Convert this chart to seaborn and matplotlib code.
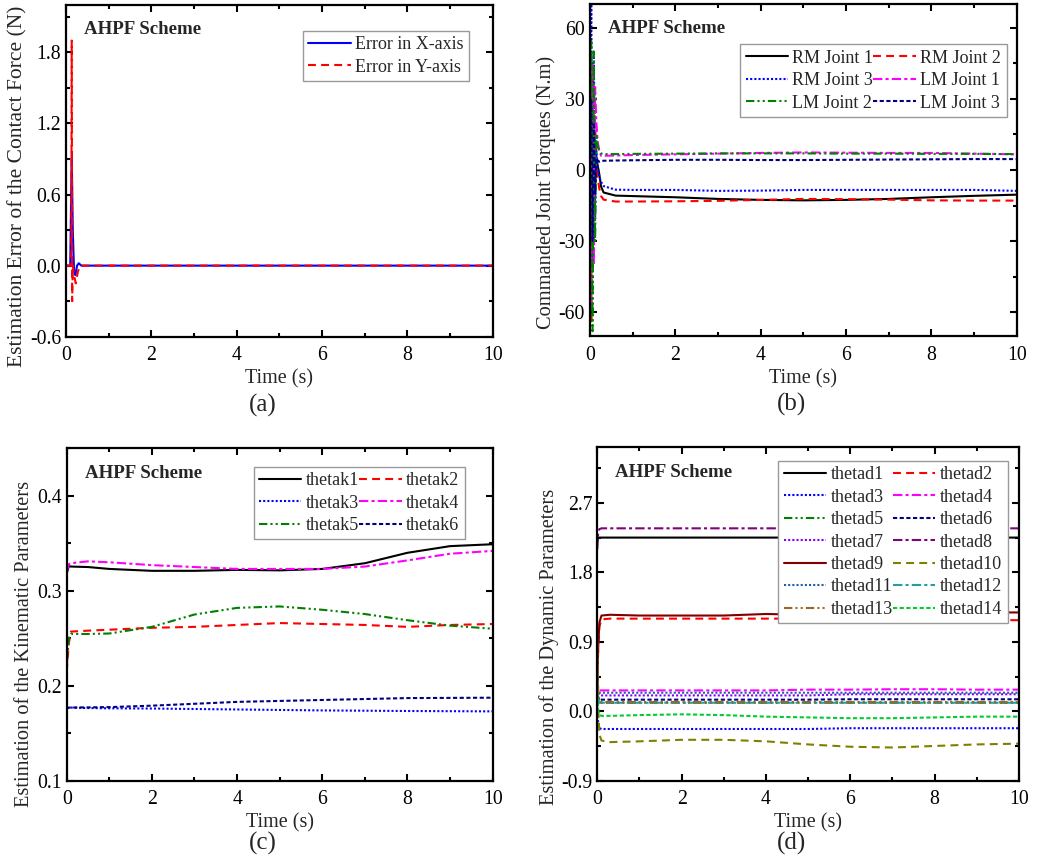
import numpy as np
import pandas as pd
import matplotlib
matplotlib.use("Agg")
import matplotlib.pyplot as plt
from matplotlib.ticker import MultipleLocator, FormatStrFormatter
import seaborn as sns

sns.set_style("ticks")
plt.rcParams['font.family'] = ['Liberation Serif', 'DejaVu Serif']
plt.rcParams['axes.unicode_minus'] = False

# ---------------- (a) contact force estimation error ----------------
t_ax = [0, 0.10, 0.135, 0.16, 0.19, 0.22, 0.26, 0.30, 0.36, 10]
err_x = [0, 0, 0.95, 0.30, -0.05, -0.08, 0.0, 0.02, 0.0, 0.0]
t_ay = [0, 0.125, 0.135, 0.145, 0.16, 0.20, 0.23, 0.28, 0.33, 10]
err_y = [0, 0, 1.90, -0.30, 0.0, -0.10, -0.15, -0.05, 0.0, 0.0]

# ---------------- (b) commanded joint torques ----------------
t_b = [0, 0.03, 0.06, 0.09, 0.12, 0.15, 0.18, 0.22, 0.26, 0.32, 0.6, 1, 2, 3, 4, 5, 6, 7, 8, 9, 10]
rm_j1 = [0, 10, -20, 15, -5, 4, 2, -2, -7, -9.5, -10.8, -11.0, -11.5, -12.2, -12.6, -12.8, -12.6, -12.2, -11.5, -10.9, -10.4]
rm_j2 = [0, -65, 40, -30, 20, 5, -3, -8, -11, -12.5, -13.3, -13.3, -13.2, -13.0, -12.6, -12.2, -12.3, -12.5, -12.8, -12.9, -12.9]
rm_j3 = [0, 70, -40, 50, -20, 8, 2, -3, -5, -6.8, -8.3, -8.4, -8.4, -8.8, -8.7, -8.4, -8.4, -8.4, -8.4, -8.4, -8.8]
lm_j1 = [0, -60, 45, -40, 35, 20, 12, 8, 6, 6.0, 6.1, 6.3, 6.6, 6.9, 7.2, 7.4, 7.3, 7.2, 7.2, 6.9, 6.6]
lm_j2 = [0, 55, -68, 50, -30, 15, 10, 8, 7, 6.7, 6.7, 6.8, 6.9, 7.0, 7.0, 7.0, 6.9, 6.9, 6.8, 6.8, 6.7]
lm_j3 = [0, 30, -30, 20, -10, 5, 4, 3.5, 3.8, 3.9, 4.0, 4.1, 4.3, 4.3, 4.2, 4.2, 4.3, 4.4, 4.5, 4.6, 4.6]

# ---------------- (c) kinematic parameters ----------------
t_c = [0, 0.05, 0.1, 0.5, 1, 2, 3, 4, 5, 6, 7, 8, 9, 10]
thetak1 = [0.318, 0.326, 0.3255, 0.325, 0.323, 0.321, 0.321, 0.322, 0.3215, 0.323, 0.329, 0.340, 0.347, 0.349]
thetak2 = [0.215, 0.245, 0.257, 0.258, 0.259, 0.261, 0.262, 0.264, 0.266, 0.265, 0.264, 0.262, 0.264, 0.265]
thetak3 = [0.176, 0.177, 0.177, 0.1765, 0.1762, 0.176, 0.1755, 0.175, 0.1745, 0.174, 0.1737, 0.1734, 0.1732, 0.173]
thetak4 = [0.320, 0.328, 0.329, 0.331, 0.330, 0.327, 0.325, 0.323, 0.323, 0.323, 0.3255, 0.332, 0.339, 0.342]
thetak5 = [0.220, 0.250, 0.2545, 0.2545, 0.255, 0.262, 0.275, 0.282, 0.2835, 0.280, 0.2755, 0.269, 0.2633, 0.260]
thetak6 = [0.176, 0.177, 0.177, 0.1772, 0.1775, 0.179, 0.181, 0.183, 0.184, 0.185, 0.186, 0.187, 0.1872, 0.1874]

# ---------------- (d) dynamic parameters ----------------
t_d = [0, 0.02, 0.05, 0.1, 0.3, 1, 2, 3, 4, 5, 6, 7, 8, 9, 10]
thetad1 = [2.20, 2.25, 2.25, 2.25, 2.25, 2.25, 2.25, 2.25, 2.25, 2.25, 2.25, 2.25, 2.25, 2.25, 2.25]
thetad2 = [0.20, 0.80, 1.10, 1.19, 1.20, 1.20, 1.20, 1.20, 1.20, 1.20, 1.19, 1.19, 1.18, 1.18, 1.18]
thetad3 = [0.10, -0.15, -0.22, -0.23, -0.23, -0.23, -0.23, -0.23, -0.23, -0.23, -0.22, -0.22, -0.22, -0.22, -0.22]
thetad4 = [0.50, 0.30, 0.27, 0.27, 0.27, 0.27, 0.27, 0.27, 0.27, 0.28, 0.28, 0.285, 0.285, 0.28, 0.28]
thetad5 = [0.60, 0.20, 0.12, 0.11, 0.11, 0.11, 0.11, 0.11, 0.11, 0.11, 0.11, 0.11, 0.11, 0.11, 0.11]
thetad6 = [0.30, 0.18, 0.15, 0.15, 0.15, 0.15, 0.15, 0.15, 0.15, 0.15, 0.155, 0.155, 0.155, 0.155, 0.155]
thetad7 = [0.40, 0.25, 0.21, 0.205, 0.205, 0.205, 0.205, 0.205, 0.205, 0.205, 0.22, 0.22, 0.22, 0.22, 0.22]
thetad8 = [2.10, 2.30, 2.36, 2.37, 2.37, 2.37, 2.37, 2.37, 2.37, 2.37, 2.37, 2.37, 2.37, 2.37, 2.37]
thetad9 = [0.30, 0.80, 1.15, 1.24, 1.25, 1.24, 1.24, 1.24, 1.26, 1.25, 1.25, 1.26, 1.27, 1.28, 1.28]
thetad10 = [0.70, 0.10, -0.30, -0.38, -0.40, -0.39, -0.37, -0.37, -0.39, -0.43, -0.46, -0.47, -0.45, -0.43, -0.42]
thetad11 = [0.35, 0.26, 0.24, 0.24, 0.24, 0.24, 0.24, 0.24, 0.24, 0.24, 0.24, 0.24, 0.24, 0.24, 0.24]
thetad12 = [0.40, 0.15, 0.11, 0.11, 0.11, 0.11, 0.11, 0.11, 0.11, 0.11, 0.11, 0.11, 0.11, 0.11, 0.11]
thetad13 = [0.90, 0.30, 0.13, 0.12, 0.12, 0.12, 0.12, 0.12, 0.12, 0.12, 0.12, 0.12, 0.12, 0.12, 0.12]
thetad14 = [0.20, 0.00, -0.05, -0.06, -0.06, -0.05, -0.04, -0.05, -0.07, -0.08, -0.09, -0.09, -0.08, -0.07, -0.07]

# line styles
SOLID = '-'
DASH = (0, (3.8, 2.5))
DOT = (0, (1, 1))
DASHDOT = (0, (4.5, 1.5, 1.5, 1.5))
DASHDOTDOT = (0, (4, 1.5, 1, 1.5, 1, 1.5))
SHORTDASH = (0, (2, 1.2))

fig = plt.figure(figsize=(10.42, 8.66), dpi=100)
ax_a = fig.add_axes([0.0633, 0.6112, 0.4095, 0.3830])
ax_b = fig.add_axes([0.5662, 0.6120, 0.4095, 0.3834])
ax_c = fig.add_axes([0.0640, 0.0985, 0.4088, 0.3838])
ax_d = fig.add_axes([0.5732, 0.0985, 0.4047, 0.3850])


def draw(ax, t, v, color, ls, label, lw=1.5):
    sns.lineplot(x=t, y=v, ax=ax, color=color, linestyle=ls, linewidth=lw,
                 label=label, estimator=None, sort=False, legend=False)
    return ax.lines[-1]


def style(ax, ylim, ymaj, ymin, fmt, ylabel, ylpos, ylsize=14.7):
    ax.set_xlim(0, 10)
    ax.set_ylim(*ylim)
    ax.xaxis.set_major_locator(MultipleLocator(2))
    ax.xaxis.set_minor_locator(MultipleLocator(1))
    ax.yaxis.set_major_locator(MultipleLocator(ymaj))
    ax.yaxis.set_minor_locator(MultipleLocator(ymin))
    ax.yaxis.set_major_formatter(FormatStrFormatter(fmt))
    ax.tick_params(which='both', direction='in', top=True, right=True,
                   labelsize=14.2, width=1.5, colors='black')
    ax.tick_params(which='major', length=5)
    ax.tick_params(which='minor', length=3)
    ax.tick_params(axis='x', pad=7)
    for s in ax.spines.values():
        s.set_linewidth(1.6)
        s.set_color('black')
        s.set_visible(True)
    ax.set_xlabel('Time (s)', fontsize=14.5, labelpad=3)
    ax.set_ylabel(ylabel, fontsize=ylsize, labelpad=2)
    ax.yaxis.label.set_y(ylpos)
    ax.text(0.043, 0.925, 'AHPF Scheme', transform=ax.transAxes, fontsize=13.6,
            fontweight='bold', va='center', ha='left')


def legend(ax, handles, anchor, ncol=1, order=None):
    if order is not None:
        handles = [handles[i] for i in order]
    lg = ax.legend(handles=handles, loc='upper right', bbox_to_anchor=anchor,
                   borderaxespad=0, ncol=ncol, fontsize=13, frameon=True,
                   fancybox=False, edgecolor='#999999', framealpha=1,
                   handlelength=2.35, handletextpad=0.25, columnspacing=0.0,
                   labelspacing=0.3, borderpad=0.3)
    lg.get_frame().set_linewidth(1.0)


# (a)
ha = [draw(ax_a, t_ax, err_x, '#0000ff', SOLID, 'Error in X-axis'),
      draw(ax_a, t_ay, err_y, '#ff0000', DASH, 'Error in Y-axis')]
style(ax_a, (-0.6, 2.2), 0.6, 0.3, '%.1f', 'Estimation Error of the Contact Force (N)', 0.453, 15.5)
legend(ax_a, ha, (0.945, 0.922))

# (b)
hb = [draw(ax_b, t_b, rm_j1, 'black', SOLID, 'RM Joint 1'),
      draw(ax_b, t_b, rm_j2, '#ff0000', DASH, 'RM Joint 2'),
      draw(ax_b, t_b, rm_j3, '#0000ff', DOT, 'RM Joint 3'),
      draw(ax_b, t_b, lm_j1, '#ff00ff', DASHDOT, 'LM Joint 1'),
      draw(ax_b, t_b, lm_j2, '#008000', DASHDOTDOT, 'LM Joint 2'),
      draw(ax_b, t_b, lm_j3, '#000080', SHORTDASH, 'LM Joint 3')]
style(ax_b, (-70, 70), 30, 15, '%d', 'Commanded Joint Torques (N.m)', 0.432)
legend(ax_b, hb, (0.9766, 0.8786), ncol=2, order=[0, 2, 4, 1, 3, 5])

# (c)
hc = [draw(ax_c, t_c, thetak1, 'black', SOLID, 'thetak1'),
      draw(ax_c, t_c, thetak2, '#ff0000', DASH, 'thetak2'),
      draw(ax_c, t_c, thetak3, '#0000ff', DOT, 'thetak3'),
      draw(ax_c, t_c, thetak4, '#ff00ff', DASHDOT, 'thetak4'),
      draw(ax_c, t_c, thetak5, '#008000', DASHDOTDOT, 'thetak5'),
      draw(ax_c, t_c, thetak6, '#000080', SHORTDASH, 'thetak6')]
style(ax_c, (0.1, 0.45), 0.1, 0.05, '%.1f', 'Estimation of the Kinematic Parameters', 0.411)
legend(ax_c, hc, (0.935, 0.9446), ncol=2, order=[0, 2, 4, 1, 3, 5])

# (d)
d_series = [thetad1, thetad2, thetad3, thetad4, thetad5, thetad6, thetad7,
            thetad8, thetad9, thetad10, thetad11, thetad12, thetad13, thetad14]
d_colors = ['black', '#ff0000', '#0000ff', '#ff00ff', '#008000', '#000080', '#8000ff',
            '#800080', '#800000', '#808000', '#2060a0', '#20a0a0', '#a0642a', '#00cc33']
d_styles = [SOLID, DASH, DOT, DASHDOT, DASHDOTDOT, SHORTDASH, DOT,
            DASHDOT, SOLID, DASH, DOT, DASHDOT, DASHDOTDOT, SHORTDASH]
hd = []
for i, (v, c, ls) in enumerate(zip(d_series, d_colors, d_styles)):
    hd.append(draw(ax_d, t_d, v, c, ls, 'thetad%d' % (i + 1)))
style(ax_d, (-0.9, 3.42), 0.9, 0.45, '%.1f', 'Estimation of the Dynamic Parameters', 0.4025)
legend(ax_d, hd, (0.973, 0.959), ncol=2, order=list(range(0, 14, 2)) + list(range(1, 14, 2)))

# panel captions
fig.text(263 / 1042, 1 - 405 / 866, '(a)', fontsize=18, ha='center', va='center')
fig.text(792 / 1042, 1 - 404 / 866, '(b)', fontsize=18, ha='center', va='center')
fig.text(263 / 1042, 1 - 843 / 866, '(c)', fontsize=18, ha='center', va='center')
fig.text(792 / 1042, 1 - 843 / 866, '(d)', fontsize=18, ha='center', va='center')

fig.savefig('out.png', dpi=100)
